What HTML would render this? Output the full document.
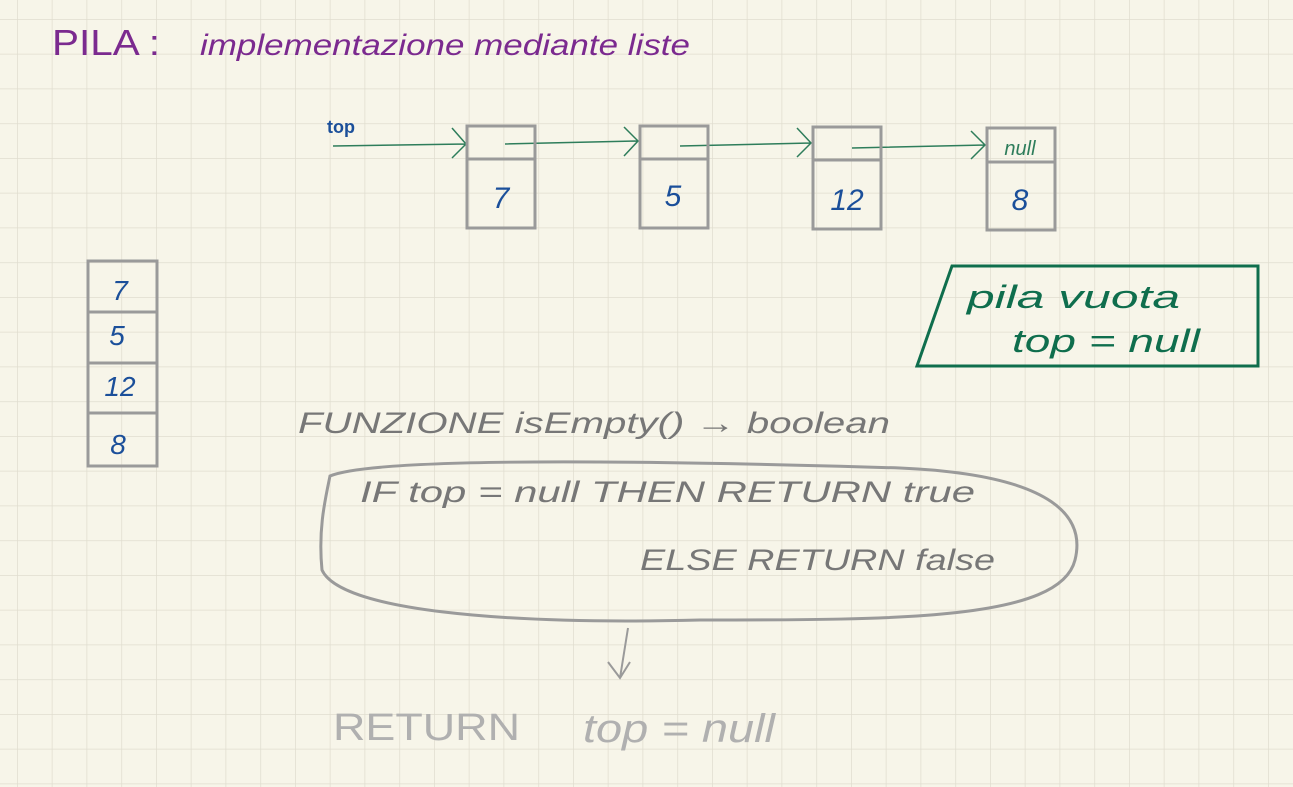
<!DOCTYPE html>
<html><head><meta charset="utf-8"><style>
html,body{margin:0;padding:0;background:#f7f5e9;}
svg{display:block}
text{font-family:"Liberation Sans",sans-serif;}
</style></head><body>
<svg width="1293" height="787" viewBox="0 0 1293 787" xmlns="http://www.w3.org/2000/svg">
<defs>
<pattern id="g" x="17" y="19" width="34.75" height="34.75" patternUnits="userSpaceOnUse">
<path d="M0 0H34.75M0 0V34.75" stroke="#e0ddcf" stroke-width="1.5" fill="none"/>
</pattern>
</defs>
<rect width="1293" height="787" fill="#f7f5e9"/>
<rect width="1293" height="787" fill="url(#g)"/>

<text x="52" y="55" font-size="36" fill="#7b2a8f" textLength="108" lengthAdjust="spacingAndGlyphs">PILA :</text>
<text x="200" y="55" font-size="30" fill="#7b2a8f" font-style="italic" textLength="490" lengthAdjust="spacingAndGlyphs">implementazione mediante liste</text>

<text x="327" y="133" font-size="18" fill="#1b4f9a" font-weight="bold">top</text>
<g stroke="#2e7d5b" stroke-width="1.5" fill="none">
<path d="M333 146L466 144M452 128L466 144L452 158"/>
<path d="M505 144L638 141M624 127L638 141L624 156"/>
<path d="M680 146L811 143M797 128L811 143L797 157"/>
<path d="M852 148L985 145M971 131L985 145L971 159"/>
</g>
<g stroke="#9a9a9a" stroke-width="3" fill="none">
<rect x="467" y="126" width="68" height="102"/><line x1="467" y1="159" x2="535" y2="159"/>
<rect x="640" y="126" width="68" height="102"/><line x1="640" y1="159" x2="708" y2="159"/>
<rect x="813" y="127" width="68" height="102"/><line x1="813" y1="160" x2="881" y2="160"/>
<rect x="987" y="128" width="68" height="102"/><line x1="987" y1="162" x2="1055" y2="162"/>
</g>
<g fill="#1b4f9a" font-size="30" font-style="italic" text-anchor="middle">
<text x="501" y="208">7</text><text x="673" y="206">5</text><text x="847" y="210">12</text><text x="1020" y="210">8</text>
</g>
<text x="1020" y="155" font-size="20" fill="#2e7d5b" font-style="italic" text-anchor="middle">null</text>

<g stroke="#9a9a9a" stroke-width="3" fill="none">
<rect x="88" y="261" width="69" height="205"/>
<line x1="88" y1="312" x2="157" y2="312"/><line x1="88" y1="363" x2="157" y2="363"/><line x1="88" y1="413" x2="157" y2="413"/>
</g>
<g fill="#1b4f9a" font-size="28" font-style="italic" text-anchor="middle">
<text x="120" y="300">7</text><text x="117" y="345">5</text><text x="120" y="396">12</text><text x="118" y="454">8</text>
</g>

<path d="M952 266L1258 266L1258 366L917 366Z" stroke="#0f6e4d" stroke-width="3" fill="none"/>
<text x="967" y="308" font-size="32" fill="#0f6e4d" font-style="italic" textLength="213" lengthAdjust="spacingAndGlyphs">pila vuota</text>
<text x="1012" y="352" font-size="32" fill="#0f6e4d" font-style="italic" textLength="188" lengthAdjust="spacingAndGlyphs">top = null</text>

<g fill="#777" font-style="italic">
<text x="298" y="433" font-size="30" textLength="592" lengthAdjust="spacingAndGlyphs">FUNZIONE  isEmpty() → boolean</text>
<text x="360" y="502" font-size="30" textLength="615" lengthAdjust="spacingAndGlyphs">IF  top = null    THEN  RETURN true</text>
<text x="640" y="570" font-size="30" textLength="355" lengthAdjust="spacingAndGlyphs">ELSE  RETURN false</text>
</g>
<path d="M330 476C380 455 700 462 900 468C1060 475 1085 520 1075 560C1060 620 900 620 700 620C500 625 340 610 322 570C318 530 325 500 330 476Z" stroke="#9a9a9a" stroke-width="3" fill="none"/>
<path d="M628 628L620 678M608 662L620 678L630 662" stroke="#9a9a9a" stroke-width="2" fill="none"/>
<text x="333" y="740" font-size="38" fill="#b0b0b0" textLength="187" lengthAdjust="spacingAndGlyphs">RETURN</text>
<text x="583" y="742" font-size="40" fill="#b0b0b0" font-style="italic" textLength="192" lengthAdjust="spacingAndGlyphs">top = null</text>
</svg>
</body></html>
